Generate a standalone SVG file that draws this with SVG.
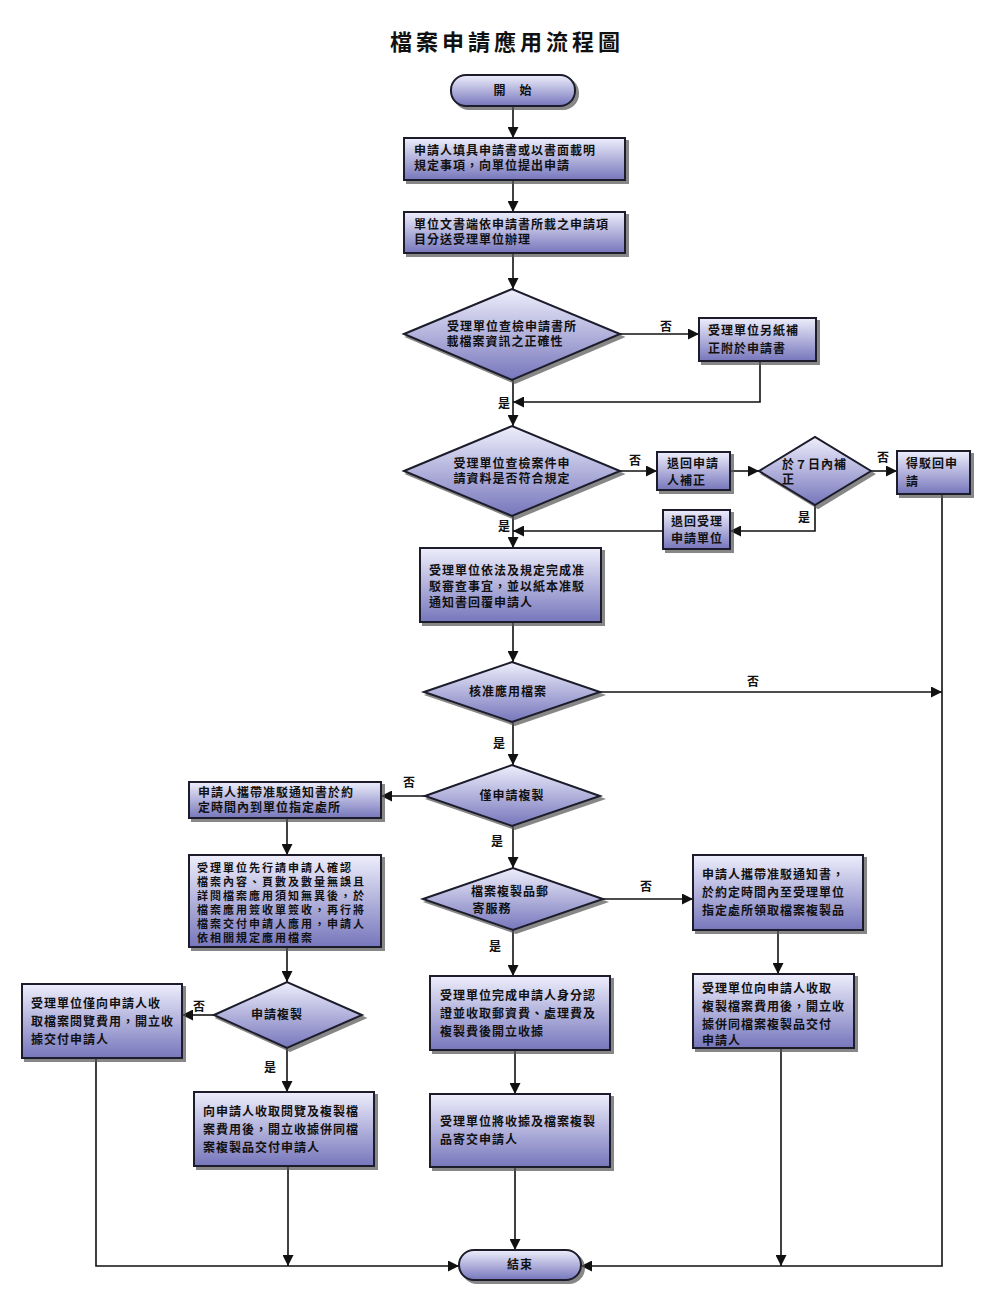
<svg xmlns="http://www.w3.org/2000/svg" width="1005" height="1315" viewBox="0 0 1005 1315">
<defs>
<linearGradient id="g" x1="0" y1="0" x2="0" y2="1"><stop offset="0" stop-color="#eeeefc"/><stop offset="1" stop-color="#7676bc"/></linearGradient>
<marker id="a" viewBox="0 0 10 10" refX="10" refY="5" markerWidth="11" markerHeight="11" markerUnits="userSpaceOnUse" orient="auto"><path d="M0,0L10,5L0,10z" fill="#111"/></marker>
<filter id="s" x="-10%" y="-10%" width="130%" height="130%"><feDropShadow dx="3" dy="3" stdDeviation="0.5" flood-color="#555" flood-opacity="0.7"/></filter>
</defs>
<style>
.n{fill:url(#g);stroke:#1a1a2a;stroke-width:2;filter:url(#s)}
text{font-family:"Noto Sans CJK TC","Noto Sans CJK SC",sans-serif;font-weight:bold;font-size:12px;fill:#111;letter-spacing:1px}
.c{text-anchor:middle}
.l{font-size:11px}
.sm text{font-size:11px;letter-spacing:2px}
#edges path{fill:none;stroke:#111;stroke-width:1.6}
.ar{marker-end:url(#a)}
</style>
<rect width="1005" height="1315" fill="#fff"/>
<text x="507" y="50" class="c" style="font-size:22px;letter-spacing:4px">檔案申請應用流程圖</text>
<g id="edges">
<path class="ar" d="M513,106V138"/>
<path class="ar" d="M513,180V212"/>
<path class="ar" d="M513,253V289"/>
<path class="ar" d="M620,334H699"/>
<path class="ar" d="M760,361V402H513"/>
<path class="ar" d="M513,380V426"/>
<path class="ar" d="M620,471H657"/>
<path class="ar" d="M730,471H759"/>
<path class="ar" d="M871,471H897"/>
<path class="ar" d="M815,505V531H730"/>
<path class="ar" d="M663,531H513"/>
<path class="ar" d="M513,516V548"/>
<path class="ar" d="M513,622V662"/>
<path class="ar" d="M600,692H942"/>
<path class="ar" d="M942,494V1266H581"/>
<path class="ar" d="M513,722V765"/>
<path class="ar" d="M425,796H381"/>
<path class="ar" d="M287,818V855"/>
<path class="ar" d="M513,826V868"/>
<path class="ar" d="M603,899H693"/>
<path class="ar" d="M513,930V976"/>
<path class="ar" d="M287,947V982"/>
<path class="ar" d="M214,1015H182"/>
<path class="ar" d="M287,1048V1092"/>
<path class="ar" d="M515,1050V1094"/>
<path class="ar" d="M778,930V974"/>
<path class="ar" d="M96,1058V1266H459"/>
<path class="ar" d="M288,1166V1266"/>
<path class="ar" d="M515,1167V1250"/>
<path class="ar" d="M781,1048V1266"/>
</g>
<g id="labels" class="l">
<text x="660" y="331">否</text>
<text x="498" y="408">是</text>
<text x="629" y="465">否</text>
<text x="877" y="462">否</text>
<text x="798" y="522">是</text>
<text x="498" y="531">是</text>
<text x="747" y="686">否</text>
<text x="493" y="748">是</text>
<text x="403" y="787">否</text>
<text x="491" y="846">是</text>
<text x="640" y="891">否</text>
<text x="489" y="951">是</text>
<text x="193" y="1011">否</text>
<text x="264" y="1072">是</text>
</g>
<g id="start"><rect class="n" x="451" y="75" width="124" height="31" rx="15"/><text x="513" y="95" class="c">開　始</text></g>
<g id="b1"><rect class="n" x="404" y="138" width="221" height="42"/><text x="414" y="155">申請人填具申請書或以書面載明</text><text x="414" y="170">規定事項，向單位提出申請</text></g>
<g id="b2"><rect class="n" x="404" y="212" width="221" height="41"/><text x="414" y="229">單位文書端依申請書所載之申請項</text><text x="414" y="244">目分送受理單位辦理</text></g>
<g id="d1"><polygon class="n" points="404,334 512,289 620,334 512,380"/><text x="512" y="331" class="c">受理單位查檢申請書所</text><text x="505" y="346" class="c">載檔案資訊之正確性</text></g>
<g id="b3"><rect class="n" x="699" y="318" width="117" height="43"/><text x="708" y="335">受理單位另紙補</text><text x="708" y="353">正附於申請書</text></g>
<g id="d2"><polygon class="n" points="404,471 512,426 620,471 512,516"/><text x="512" y="468" class="c">受理單位查檢案件申</text><text x="512" y="483" class="c">請資料是否符合規定</text></g>
<g id="b4"><rect class="n" x="657" y="452" width="73" height="38"/><text x="667" y="468">退回申請</text><text x="667" y="485">人補正</text></g>
<g id="d3"><polygon class="n" points="759,471 815,437 871,471 815,505"/><text x="782" y="469">於７日內補</text><text x="782" y="484">正</text></g>
<g id="b5"><rect class="n" x="897" y="451" width="73" height="43"/><text x="906" y="468">得駁回申</text><text x="906" y="486">請</text></g>
<g id="b6"><rect class="n" x="663" y="510" width="67" height="39"/><text x="671" y="526">退回受理</text><text x="671" y="543">申請單位</text></g>
<g id="b7"><rect class="n" x="420" y="548" width="181" height="74"/><text x="429" y="575">受理單位依法及規定完成准</text><text x="429" y="591">駁審查事宜，並以紙本准駁</text><text x="429" y="607">通知書回覆申請人</text></g>
<g id="d4"><polygon class="n" points="424,692 512,662 600,692 512,722"/><text x="508" y="696" class="c">核准應用檔案</text></g>
<g id="d5"><polygon class="n" points="425,796 512,765 600,796 512,826"/><text x="512" y="800" class="c">僅申請複製</text></g>
<g id="b8"><rect class="n" x="189" y="782" width="192" height="36"/><text x="198" y="797">申請人攜帶准駁通知書於約</text><text x="198" y="812">定時間內到單位指定處所</text></g>
<g id="b9" class="sm"><rect class="n" x="189" y="855" width="192" height="92"/><text x="197" y="872">受理單位先行請申請人確認</text><text x="197" y="886">檔案內容、頁數及數量無誤且</text><text x="197" y="900">詳閱檔案應用須知無異後，於</text><text x="197" y="914">檔案應用簽收單簽收，再行將</text><text x="197" y="928">檔案交付申請人應用，申請人</text><text x="197" y="942">依相關規定應用檔案</text></g>
<g id="d6"><polygon class="n" points="423,899 513,868 603,899 513,930"/><text x="510" y="896" class="c">檔案複製品郵</text><text x="492" y="913" class="c">寄服務</text></g>
<g id="b10"><rect class="n" x="693" y="855" width="170" height="75"/><text x="702" y="879">申請人攜帶准駁通知書，</text><text x="702" y="897">於約定時間內至受理單位</text><text x="702" y="915">指定處所領取檔案複製品</text></g>
<g id="d7"><polygon class="n" points="214,1015 287,982 362,1015 287,1048"/><text x="277" y="1019" class="c">申請複製</text></g>
<g id="b11"><rect class="n" x="22" y="984" width="160" height="74"/><text x="31" y="1008">受理單位僅向申請人收</text><text x="31" y="1026">取檔案閱覽費用，開立收</text><text x="31" y="1044">據交付申請人</text></g>
<g id="b12"><rect class="n" x="430" y="976" width="180" height="74"/><text x="440" y="1000">受理單位完成申請人身分認</text><text x="440" y="1018">證並收取郵資費、處理費及</text><text x="440" y="1036">複製費後開立收據</text></g>
<g id="b13"><rect class="n" x="693" y="974" width="161" height="74"/><text x="702" y="993">受理單位向申請人收取</text><text x="702" y="1011">複製檔案費用後，開立收</text><text x="702" y="1029">據併同檔案複製品交付</text><text x="702" y="1045">申請人</text></g>
<g id="b14"><rect class="n" x="194" y="1092" width="180" height="74"/><text x="203" y="1116">向申請人收取閱覽及複製檔</text><text x="203" y="1134">案費用後，開立收據併同檔</text><text x="203" y="1152">案複製品交付申請人</text></g>
<g id="b15"><rect class="n" x="430" y="1094" width="180" height="73"/><text x="440" y="1126">受理單位將收據及檔案複製</text><text x="440" y="1144">品寄交申請人</text></g>
<g id="end"><rect class="n" x="459" y="1250" width="122" height="30" rx="15"/><text x="520" y="1269" class="c">結束</text></g>
</svg>
